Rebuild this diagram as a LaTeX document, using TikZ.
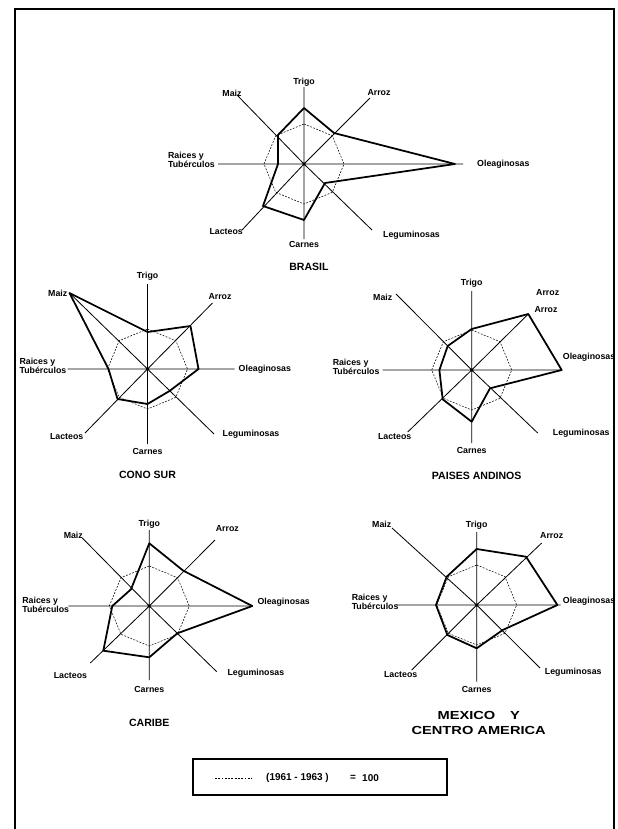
\documentclass[tikz,border=0pt]{standalone}
\usepackage{fontspec}
\setmainfont{Liberation Sans}
\usetikzlibrary{calc}
\tikzset{
  spoke/.style={line width=0.7pt},
  refpoly/.style={line width=0.45pt, dash pattern=on 1.6pt off 1.2pt},
  datapoly/.style={line width=1.5pt, line join=round},
  lbl/.style={font=\fontsize{7.5}{7.8}\selectfont\bfseries, inner sep=0pt, align=left},
  ttl/.style={font=\fontsize{9}{10}\selectfont\bfseries, inner sep=0pt, align=center},
}
% base octagon, (1961-1963) = 100
\def\refoct{\draw[refpoly] (0,-40) -- (28.3,-28.3) -- (40,0) -- (28.3,28.3) -- (0,40) -- (-28.3,28.3) -- (-40,0) -- (-28.3,-28.3) -- cycle;}

\begin{document}
\begin{tikzpicture}[x=0.03cm,y=-0.03cm]
			\useasboundingbox (0,0) rectangle (618,829);
			
			%%%%% FRAME %%%%%
			\draw[line width=1.2pt] (15,829) -- (15,9) -- (614,9) -- (614,829);
			
			%%%%% BRASIL %%%%%
			\begin{scope}[shift={(304,164)}]
			\draw[spoke] (0,0) -- (0,-77) (0,0) -- (66,-66) (0,0) -- (159,0) (0,0) -- (68,66)
			  (0,0) -- (0,75) (0,0) -- (-62,66) (0,0) -- (-86,0) (0,0) -- (-67,-69);
			\refoct
			\draw[datapoly] (0,-56) -- (30,-31) -- (151,0) -- (21,19) -- (0,56) -- (-41,42) -- (-26,0) -- (-26,-29) -- cycle;
			\node[lbl] (brTrigo) at (0,-82) {Trigo};
			\node[lbl] (brArroz) at (75,-71) {Arroz};
			\node[lbl, anchor=west] (brOlea) at (173,0) {Oleaginosas};
			\node[lbl, anchor=west] (brLegu) at (79,71) {Leguminosas};
			\node[lbl] (brCarnes) at (0,80) {Carnes};
			\node[lbl, anchor=east] (brLact) at (-61,68) {Lacteos};
			\node[lbl, anchor=east] (brRaices) at (-89,-4) {Raices y\\Tubérculos};
			\node[lbl] (brMaiz) at (-72,-71) {Maiz};
			\node[ttl] (brTitle) at (5,103) {BRASIL};
			\end{scope}
			
			%%%%% CONO SUR %%%%%
			\begin{scope}[shift={(147.5,369)}]
			\draw[spoke] (0,0) -- (0,-85) (0,0) -- (65,-66) (0,0) -- (87,0) (0,0) -- (66.5,65)
			  (0,0) -- (0,75) (0,0) -- (-62.5,64) (0,0) -- (-80,0) (0,0) -- (-78,-76);
			\refoct
			\draw[datapoly] (0,-37) -- (43,-43) -- (51,0) -- (22,22) -- (0,35) -- (-30,30) -- (-39,0) -- (-78,-76) -- cycle;
			\node[lbl] (csTrigo) at (0,-93) {Trigo};
			\node[lbl] (csArroz) at (72.5,-72) {Arroz};
			\node[lbl, anchor=west] (csOlea) at (91,0) {Oleaginosas};
			\node[lbl, anchor=west] (csLegu) at (75,65) {Leguminosas};
			\node[lbl] (csCarnes) at (0,82) {Carnes};
			\node[lbl, anchor=east] (csLact) at (-64,68) {Lacteos};
			\node[lbl, anchor=east] (csRaices) at (-81,-3) {Raices y\\Tubérculos};
			\node[lbl, anchor=east] (csMaiz) at (-80,-76) {Maiz};
			\node[ttl] (csTitle) at (0,106) {CONO SUR};
			\end{scope}
			
			%%%%% PAISES ANDINOS %%%%%
			\begin{scope}[shift={(471.7,370)}]
			\draw[spoke] (0,0) -- (0,-79) (0,0) -- (56.6,-56) (0,0) -- (90,0) (0,0) -- (66,63)
			  (0,0) -- (0,73) (0,0) -- (-64,62) (0,0) -- (-89,0) (0,0) -- (-75.7,-76);
			\refoct
			\draw[datapoly] (0,-41) -- (56.6,-56) -- (90,0) -- (18.3,18.3) -- (0,51.7) -- (-29,29.3) -- (-32.3,0) -- (-24,-24) -- cycle;
			\node[lbl] (paTrigo) at (0,-87) {Trigo};
			\node[lbl] (paArroz) at (76,-77) {Arroz};
			\node[lbl] (paArrozb) at (74.3,-60) {Arroz};
			\node[lbl, anchor=west] (paOlea) at (91,-13) {Oleaginosas};
			\node[lbl, anchor=west] (paLegu) at (81,63) {Leguminosas};
			\node[lbl] (paCarnes) at (0,80) {Carnes};
			\node[lbl] (paLact) at (-77,67) {Lacteos};
			\node[lbl, anchor=east] (paRaices) at (-92,-3) {Raices y\\Tubérculos};
			\node[lbl] (paMaiz) at (-89,-73) {Maiz};
			\node[ttl] (paTitle) at (5,106) {PAISES ANDINOS};
			\end{scope}
			
			%%%%% CARIBE %%%%%
			\begin{scope}[shift={(149.3,606)}]
			\draw[spoke] (0,0) -- (0,-76) (0,0) -- (65.7,-66) (0,0) -- (103,0) (0,0) -- (67.4,65.7)
			  (0,0) -- (0,74) (0,0) -- (-59,57) (0,0) -- (-81,0) (0,0) -- (-67,-68);
			\refoct
			\draw[datapoly] (0,-62.7) -- (34,-35.3) -- (103,0) -- (28,27.3) -- (0,51.3) -- (-46,44.7) -- (-37,0) -- (-18.3,-16.7) -- cycle;
			\node[lbl] (caTrigo) at (0,-82) {Trigo};
			\node[lbl] (caArroz) at (78,-77) {Arroz};
			\node[lbl, anchor=west] (caOlea) at (108,-4) {Oleaginosas};
			\node[lbl, anchor=west] (caLegu) at (78,67) {Leguminosas};
			\node[lbl] (caCarnes) at (0,83) {Carnes};
			\node[lbl, anchor=east] (caLact) at (-62,70) {Lacteos};
			\node[lbl, anchor=east] (caRaices) at (-80,-1) {Raices y\\Tubérculos};
			\node[lbl] (caMaiz) at (-76,-71) {Maiz};
			\node[ttl] (caTitle) at (0,117) {CARIBE};
			\end{scope}
			
			%%%%% MEXICO Y CENTRO AMERICA %%%%%
			\begin{scope}[shift={(476.7,605)}]
			\draw[spoke] (0,0) -- (0,-73) (0,0) -- (65,-62) (0,0) -- (84,0) (0,0) -- (63.3,63)
			  (0,0) -- (0,76.7) (0,0) -- (-65,65) (0,0) -- (-80,0) (0,0) -- (-84.7,-77);
			\refoct
			\draw[datapoly] (0,-56) -- (49.3,-48.3) -- (80.7,0) -- (26,25) -- (0,43.3) -- (-29.3,30) -- (-40.7,0) -- (-30,-28.3) -- cycle;
			\node[lbl] (mxTrigo) at (0,-80) {Trigo};
			\node[lbl] (mxArroz) at (75,-69) {Arroz};
			\node[lbl, anchor=west] (mxOlea) at (86,-4) {Oleaginosas};
			\node[lbl, anchor=west] (mxLegu) at (68,67) {Leguminosas};
			\node[lbl] (mxCarnes) at (0,84) {Carnes};
			\node[lbl] (mxLact) at (-76,70) {Lacteos};
			\node[lbl, anchor=east] (mxRaices) at (-78,-3) {Raices y\\Tubérculos};
			\node[lbl] (mxMaiz) at (-95,-81) {Maiz};
			\node[ttl, font=\fontsize{10}{12.8}\selectfont\bfseries] (mxTitle) at (2,118)
			  {\scalebox{1.25}[1]{MEXICO\quad Y}\\\scalebox{1.25}[1]{CENTRO AMERICA}};
			\end{scope}
			
			%%%%% LEGEND %%%%%
			\draw[line width=0.9pt] (193,759) rectangle (447,795);
			\draw[refpoly, line width=0.7pt] (215,778) -- (252,778);
			\node[ttl, font=\fontsize{8.5}{9}\selectfont\bfseries, anchor=west] (legYears) at (266,778) {(1961 - 1963 )};
			\node[ttl, font=\fontsize{8.5}{9}\selectfont\bfseries] (legEq) at (353,778) {=};
			\node[ttl, font=\fontsize{8.5}{9}\selectfont\bfseries, anchor=west] (legVal) at (362,778) {100};
\end{tikzpicture}
\end{document}
